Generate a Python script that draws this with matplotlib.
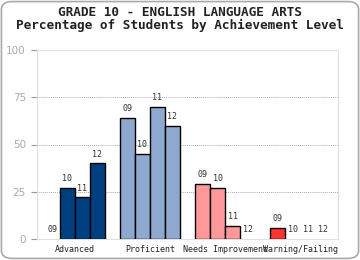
import matplotlib
matplotlib.use("Agg")
import matplotlib.pyplot as plt
from matplotlib.patches import FancyBboxPatch
import numpy as np

categories = ["Advanced", "Proficient", "Needs Improvement", "Warning/Failing"]
grades = ["09", "10", "11", "12"]
values = {
    "09": [0, 64, 29, 6],
    "10": [27, 45, 27, 0],
    "11": [22, 70, 7, 0],
    "12": [40, 60, 0, 0],
}
colors = ["#003f80", "#8fa8cf", "#ff9999", "#ff3333"]
yticks = [0, 25, 50, 75, 100]

fig = plt.figure(figsize=(3.6, 2.6), dpi=100)
fig.patch.set_facecolor("white")
border = FancyBboxPatch((0.004, 0.006), 0.992, 0.988, boxstyle="round,pad=0,rounding_size=0.03",
                        transform=fig.transFigure, facecolor="none", edgecolor="#aaaaaa", lw=1.2,
                        zorder=-1)
fig.patches.append(border)

ax = fig.add_axes([37/360, 1-239/260, 301/360, 189/260])
ax.set_facecolor("none")
x = np.arange(len(categories))
w = 0.2
offsets = [-0.3, -0.1, 0.1, 0.3]
for gi, g in enumerate(grades):
    vals = values[g]
    for ci, v in enumerate(vals):
        xpos = x[ci] + offsets[gi]
        if v > 0:
            ax.bar(xpos, v, width=w, color=colors[ci], edgecolor="black", lw=1.0, zorder=3)
        ax.text(xpos, v + 2.5, g, ha="center", va="bottom", fontsize=6,
                family="DejaVu Sans Mono", color="#333333", zorder=4)

ax.set_xlim(-0.5, 3.5)
ax.set_ylim(0, 100)
ax.set_yticks(yticks)
ax.set_yticklabels([str(t) for t in yticks], color="#aaaaaa", fontsize=7.5)
ax.tick_params(axis="y", length=4, color="#999999", width=0.8, pad=4)
ax.set_xticks(x)
ax.set_xticklabels(categories, fontsize=6, family="DejaVu Sans Mono", color="#222222")
ax.tick_params(axis="x", length=0, pad=4)
for t in [25, 50, 75]:
    ax.axhline(t, color="#aaaaaa", lw=0.7, ls=(0, (1, 1)), zorder=1)
for s in ax.spines.values():
    s.set_color("#e0e0e0")
    s.set_linewidth(0.8)

fig.text(0.5, 1-13/260, "GRADE 10 - ENGLISH LANGUAGE ARTS", ha="center", va="center",
         fontsize=9.2, fontweight="bold", family="DejaVu Sans Mono", color="#222222")
fig.text(0.5, 1-25.5/260, "Percentage of Students by Achievement Level", ha="center", va="center",
         fontsize=9.2, fontweight="bold", family="DejaVu Sans Mono", color="#222222")

fig.savefig("out.png", dpi=100)
